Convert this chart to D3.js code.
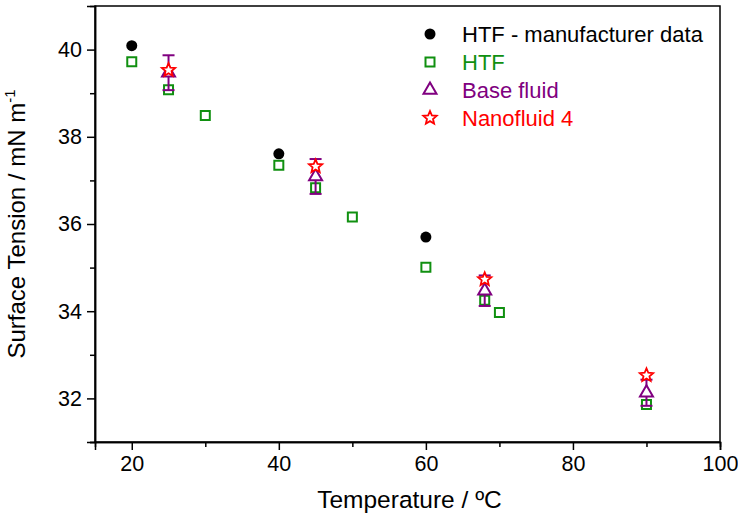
<!DOCTYPE html>
<html>
<head>
<meta charset="utf-8">
<script src="https://cdn.jsdelivr.net/npm/d3@7"></script>
<style>
  html, body { margin: 0; padding: 0; background: #fff; }
  svg { display: block; font-family: "Liberation Sans", Arial, sans-serif; }
</style>
</head>
<body>
<svg id="chart" width="738" height="517"></svg>
<script>
// Surface tension vs temperature
const xTicks = [20, 40, 60, 80, 100];
const xMinor = [30, 50, 70, 90];
const yTicks = [32, 34, 36, 38, 40];
const yMinor = [31, 33, 35, 37, 39];

// HTF - manufacturer data
const mfrT = [20, 40, 60];
const mfrST = [40.09, 37.61, 35.70];

// HTF (measured)
const htfT = [20, 25, 30, 40, 45, 50, 60, 68, 70, 90];
const htfST = [39.72, 39.08, 38.49, 37.35, 36.83, 36.16, 35.01, 34.25, 33.97, 31.86];

// Base fluid, with standard deviation
const baseT = [25, 45, 68, 90];
const baseST = [39.47, 37.09, 34.47, 32.13];
const baseErr = [0.40, 0.40, 0.35, 0.30];

// Nanofluid 4
const nanoT = [25, 45, 68, 90];
const nanoST = [39.53, 37.32, 34.73, 32.53];

const legendLabels = ["HTF - manufacturer data", "HTF", "Base fluid", "Nanofluid 4"];
const colors = { mfr: "#000000", htf: "#109010", base: "#800080", nano: "#ff0000" };

const svg = d3.select("#chart");
const m = { left: 95, right: 720, top: 6, bottom: 442 };

const x = d3.scaleLinear().domain([15, 100]).range([m.left, m.right]);
const y = d3.scaleLinear().domain([31, 41]).range([m.bottom, m.top]);

// frame
svg.append("rect")
  .attr("x", m.left).attr("y", m.top)
  .attr("width", m.right - m.left).attr("height", m.bottom - m.top)
  .attr("fill", "none").attr("stroke", "#000").attr("stroke-width", 1.5);

// axes
const xAxis = svg.append("g").attr("transform", `translate(0,${m.bottom})`)
  .call(d3.axisBottom(x).tickValues(xTicks).tickSize(8).tickPadding(6).tickFormat(d3.format("d")));
const xAxisMinor = svg.append("g").attr("transform", `translate(0,${m.bottom})`)
  .call(d3.axisBottom(x).tickValues(xMinor).tickSize(5).tickFormat(""));
const yAxis = svg.append("g").attr("transform", `translate(${m.left},0)`)
  .call(d3.axisLeft(y).tickValues(yTicks).tickSize(8).tickPadding(5).tickFormat(d3.format("d")));
const yAxisMinor = svg.append("g").attr("transform", `translate(${m.left},0)`)
  .call(d3.axisLeft(y).tickValues(yMinor).tickSize(5).tickFormat(""));

[xAxis, xAxisMinor, yAxis, yAxisMinor].forEach(g => {
  g.select(".domain").attr("stroke", "#000").attr("stroke-width", 1.5);
  g.selectAll(".tick line").attr("stroke", "#000").attr("stroke-width", 1.5);
  g.selectAll(".tick text").attr("fill", "#000").attr("font-size", 21.5)
    .attr("font-family", "Liberation Sans, Arial, sans-serif");
});

// axis titles
svg.append("text")
  .attr("x", (m.left + m.right) / 2 + 2).attr("y", 508)
  .attr("text-anchor", "middle").attr("font-size", 24.5).attr("fill", "#000")
  .text("Temperature / ºC");

const yt = svg.append("text")
  .attr("transform", `translate(25,${(m.top + m.bottom) / 2}) rotate(-90)`)
  .attr("text-anchor", "middle").attr("font-size", 24).attr("fill", "#000");
yt.append("tspan").text("Surface Tension / mN m");
yt.append("tspan").attr("font-size", 15).attr("dy", -10).text("-1");

// marker shapes
function squarePath(cx, cy, s) {
  const h = s / 2;
  return `M${cx - h},${cy - h}H${cx + h}V${cy + h}H${cx - h}Z`;
}
function trianglePath(cx, cy, s) {
  const h = s * Math.sqrt(3) / 2;
  return `M${cx},${cy - h * 2 / 3}L${cx + s / 2},${cy + h / 3}L${cx - s / 2},${cy + h / 3}Z`;
}
function starPath(cx, cy, R) {
  const r = R * 0.45;
  let p = "";
  for (let i = 0; i < 10; i++) {
    const a = -Math.PI / 2 + i * Math.PI / 5;
    const rr = i % 2 === 0 ? R : r;
    p += (i === 0 ? "M" : "L") + (cx + rr * Math.cos(a)) + "," + (cy + rr * Math.sin(a));
  }
  return p + "Z";
}

const plot = svg.append("g");

// HTF squares
plot.selectAll("path.htf").data(htfT.map((t, i) => [t, htfST[i]])).join("path")
  .attr("class", "htf")
  .attr("d", d => squarePath(x(d[0]), y(d[1]), 9))
  .attr("fill", "#fff").attr("stroke", colors.htf).attr("stroke-width", 2);

// Base fluid error bars
const baseData = baseT.map((t, i) => ({ t, v: baseST[i], e: baseErr[i] }));
const eb = plot.selectAll("g.err").data(baseData).join("g").attr("class", "err")
  .attr("stroke", colors.base).attr("stroke-width", 2);
eb.append("line")
  .attr("x1", d => x(d.t)).attr("x2", d => x(d.t))
  .attr("y1", d => y(d.v + d.e)).attr("y2", d => y(d.v - d.e));
eb.append("line")
  .attr("x1", d => x(d.t) - 6).attr("x2", d => x(d.t) + 6)
  .attr("y1", d => y(d.v + d.e)).attr("y2", d => y(d.v + d.e));
eb.append("line")
  .attr("x1", d => x(d.t) - 6).attr("x2", d => x(d.t) + 6)
  .attr("y1", d => y(d.v - d.e)).attr("y2", d => y(d.v - d.e));

// Base fluid triangles
plot.selectAll("path.base").data(baseData).join("path")
  .attr("class", "base")
  .attr("d", d => trianglePath(x(d.t), y(d.v), 13))
  .attr("fill", "#fff").attr("stroke", colors.base).attr("stroke-width", 2);

// Nanofluid stars
plot.selectAll("path.nano").data(nanoT.map((t, i) => [t, nanoST[i]])).join("path")
  .attr("class", "nano")
  .attr("d", d => starPath(x(d[0]), y(d[1]), 7))
  .attr("fill", "#fff").attr("stroke", colors.nano).attr("stroke-width", 1.8)
  .attr("stroke-linejoin", "miter");

// Manufacturer circles
plot.selectAll("circle.mfr").data(mfrT.map((t, i) => [t, mfrST[i]])).join("circle")
  .attr("class", "mfr")
  .attr("cx", d => x(d[0])).attr("cy", d => y(d[1])).attr("r", 5.5)
  .attr("fill", colors.mfr);

// legend
const legendY = [34, 62, 90, 118];
const legendColors = [colors.mfr, colors.htf, colors.base, colors.nano];
const lg = svg.append("g");
const sx = 430;
lg.append("circle").attr("cx", sx).attr("cy", legendY[0]).attr("r", 5.5).attr("fill", colors.mfr);
lg.append("path").attr("d", squarePath(sx, legendY[1], 9))
  .attr("fill", "#fff").attr("stroke", colors.htf).attr("stroke-width", 2);
lg.append("path").attr("d", trianglePath(sx, legendY[2], 13))
  .attr("fill", "#fff").attr("stroke", colors.base).attr("stroke-width", 2);
lg.append("path").attr("d", starPath(sx, legendY[3], 7))
  .attr("fill", "#fff").attr("stroke", colors.nano).attr("stroke-width", 1.8);
legendLabels.forEach((lab, i) => {
  lg.append("text").attr("x", 462).attr("y", legendY[i] + 8)
    .attr("font-size", 22).attr("fill", legendColors[i]).text(lab);
});
</script>
</body>
</html>
